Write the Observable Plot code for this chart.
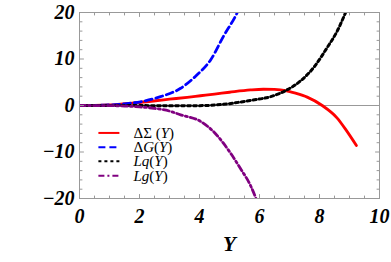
<!DOCTYPE html>
<html><head><meta charset="utf-8">
<script src="https://cdn.jsdelivr.net/npm/d3@7"></script>
<script src="https://cdn.jsdelivr.net/npm/@observablehq/plot@0.6"></script>
<style>body{margin:0;background:#fff}#chart{width:391px;height:262px}
#chart svg text, #chart svg tspan{font-family:"Liberation Serif", "DejaVu Serif", serif;}
</style>
</head><body><div id="chart"></div>
<script>
// ---- data ----
const sigmaX = [0, 0.5, 1, 1.37, 1.92, 2.47, 3, 3.59, 4.03, 4.5, 5, 5.7, 6.13, 6.5, 6.87, 7.2, 7.59, 8.09, 8.59, 8.9, 9.23];
const sigmaY = [0, 0.02, 0.12, 0.3, 0.6, 0.97, 1.35, 1.77, 2.1, 2.45, 2.85, 3.35, 3.5, 3.45, 3.2, 2.65, 1.8, 0, -2.7, -5.4, -8.6];

const gluX = [0, 0.5, 1, 1.5, 2.03, 2.7, 3.37, 3.92, 4.37, 4.8, 5.26, 5.4];
const gluY = [0, 0.02, 0.12, 0.35, 0.8, 1.9, 3.7, 6.6, 9.8, 14.9, 20, 22];

const lqX = [0, 1, 2, 3, 4, 4.5, 5, 5.37, 5.7, 6.37, 6.87, 7.37, 7.81, 8.26, 8.59, 8.87, 9.0];
const lqY = [0, 0, -0.02, -0.05, -0.03, 0.1, 0.4, 0.75, 1.1, 1.9, 3.2, 5.3, 8.2, 12.5, 16, 20, 22];

const lgX = [0, 1, 1.5, 2, 2.48, 3, 3.37, 4.03, 4.48, 5.03, 5.37, 5.7, 5.87, 5.95];
const lgY = [0, -0.03, -0.12, -0.3, -0.6, -1.2, -2.0, -3.4, -5.7, -10.2, -13.6, -17.2, -19.8, -21.2];

const seriesNames = ["ΔΣ (Y)", "ΔG(Y)", "Lq(Y)", "Lg(Y)"];
const seriesColors = ["#ff0000", "#0000ff", "#000000", "#800080"];
const seriesDash = [null, "7,4", "3,3", "6,3,2,3"];

const xTicks = [0, 2, 4, 6, 8, 10];
const yTicks = [-20, -10, 0, 10, 20];
const xMinorTicks = d3.range(0, 10.001, 0.5);
const yMinorTicks = d3.range(-20, 20.001, 2);

// legend placement (data coordinates)
const legendRowY = [-5.9, -9.0, -12.0, -15.1];
const legendLineX = [0.63, 1.33];
const legendTextX = 1.8;

// ---- build ----
const series = [[sigmaX, sigmaY], [gluX, gluY], [lqX, lqY], [lgX, lgY]]
  .map(([xs, ys]) => xs.map((x, i) => ({x, y: ys[i]})));

const tickStyle = {fontSize: 20, fontWeight: "bold", fontStyle: "italic", fill: "#000"};
const gray = "#999";

const tickShape = {draw(ctx, l) { ctx.moveTo(0, 0); ctx.lineTo(0, -l); }};
function ticks(values, side, len) {
  const rot = {bottom: 0, top: 180, left: 90, right: 270}[side];
  const horiz = side === "bottom" || side === "top";
  return Plot.vector(values, {
    [horiz ? "x" : "y"]: d => d,
    frameAnchor: side, rotate: rot, length: len, anchor: "start",
    shape: tickShape, stroke: gray, strokeWidth: 1
  });
}

const marks = [
  Plot.ruleY([0], {stroke: gray, strokeWidth: 1}),
  ...series.map((data, i) => Plot.line(data, {
    x: "x", y: "y", stroke: seriesColors[i], strokeWidth: i === 2 ? 3 : 2.8,
    strokeDasharray: seriesDash[i], curve: "monotone-x", clip: true
  })),
  Plot.frame({stroke: gray, strokeWidth: 1}),
];
for (const side of ["bottom", "top"]) {
  marks.push(ticks(xTicks, side, 4), ticks(xMinorTicks.filter(v => !xTicks.includes(v)), side, 2.5));
}
for (const side of ["left", "right"]) {
  marks.push(ticks(yTicks, side, 4), ticks(yMinorTicks.filter(v => !yTicks.includes(v)), side, 2.5));
}
marks.push(
  Plot.axisX({ticks: xTicks, anchor: "bottom", tickSize: 0, tickPadding: 10, label: null, ...tickStyle}),
  Plot.axisY({ticks: yTicks, anchor: "left", tickSize: 0, tickPadding: 5, label: null,
    tickFormat: d => d < 0 ? "\u2212" + (-d) : String(d), ...tickStyle}),
  Plot.text(["Y"], {frameAnchor: "bottom", dy: 52, text: d => d, fontSize: 21,
    fontWeight: "bold", fontStyle: "italic", fill: "#000"})
);
seriesNames.forEach((name, i) => {
  marks.push(Plot.link([name], {
    x1: () => legendLineX[0], x2: () => legendLineX[1],
    y1: () => legendRowY[i], y2: () => legendRowY[i],
    stroke: seriesColors[i], strokeWidth: 2, strokeDasharray: seriesDash[i]
  }));
});
marks.push(Plot.text(seriesNames, {
  x: () => legendTextX, y: (d, i) => legendRowY[i], text: d => d,
  textAnchor: "start", fontSize: 15, fill: "#000"
}));

const chart = Plot.plot({
  width: 391, height: 262,
  marginLeft: 79, marginRight: 12, marginTop: 12, marginBottom: 64,
  x: {domain: [0, 10], label: null},
  y: {domain: [-20, 20], label: null},
  style: {background: "#fff", fontFamily: "'Liberation Serif', serif"},
  marks
});

// italicize Latin letters in legend labels (Greek stays upright), grouped in runs
d3.select(chart).selectAll("text").filter(function() {
  return seriesNames.includes(this.textContent);
}).each(function() {
  const t = d3.select(this);
  const s = t.text();
  t.text(null);
  const runs = [];
  for (const ch of s) {
    const it = /[A-Za-z]/.test(ch);
    if (runs.length && runs[runs.length - 1].it === it) runs[runs.length - 1].s += ch;
    else runs.push({it, s: ch});
  }
  for (const r of runs) t.append("tspan").style("font-style", r.it ? "italic" : "normal").text(r.s);
});

document.getElementById("chart").appendChild(chart);
</script>
</body></html>
